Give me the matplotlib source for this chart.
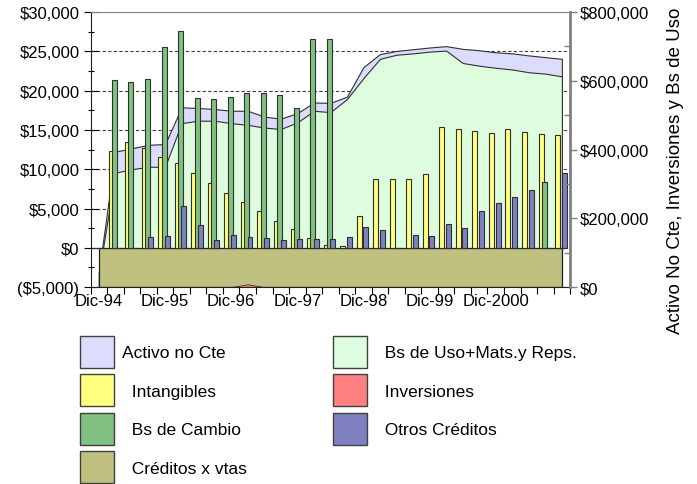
import matplotlib
matplotlib.use("Agg")
import matplotlib.pyplot as plt
from matplotlib.patches import Patch
import numpy as np

plt.rcParams['font.family'] = ['Liberation Sans', 'DejaVu Sans']

# quarterly categories, Dic-94 .. Dic-2001
cat_labels = ["Dic-94", "Dic-95", "Dic-96", "Dic-97", "Dic-98", "Dic-99", "Dic-2000"]
label_pos = [0, 4, 8, 12, 16, 20, 24]

# bars (left axis, $)
intangibles = [0, 12300, 13490, 12730, 11580, 10770, 9550, 8310, 7000, 5890, 4660, 3475, 2370,
               1290, 420, 270, 4060, 8780, 8780, 8700, 9420, 15400, 15150, 14850, 14590, 15150,
               14800, 14510, 14380]
bs_cambio = [0, 21340, 21080, 21425, 25590, 27620, 19100, 18970, 19220, 19640, 19730, 19470, 17820,
             26600, 26600, 0, 0, 0, 0, 0, 0, 0, 0, 0, 0, 0, 0, 8350, 0]
otros_cred = [0, 0, 0, 1400, 1527, 5300, 2840, 930, 1650, 1400, 1270, 930, 1080,
              1180, 1160, 1320, 2620, 2230, 0, 1650, 1530, 3000, 2500, 4660, 5640, 6440,
              7330, 0, 9460]
# area on left axis
creditos_vtas = [0, 0, 0, 0, 0, 0, 0, 0, 0, 0, 0, 0, 0, 0, 0, 0, 0, 0, 0, 0, 0, 0, 0, 0, 0, 0, 0, 0, 0]

# areas (right axis, $)
activo_no_cte = [45000, 394000, 404000, 414000, 416000, 523000, 521000, 518000, 513000, 513000,
                 496000, 490000, 506000, 537000, 536000, 554000, 640000, 678000, 687000, 692000,
                 697000, 701000, 693000, 689000, 683000, 680000, 674000, 669000, 664000]
bs_uso = [40000, 333000, 343000, 350000, 350000, 477000, 484000, 484000, 477000, 472000,
          464000, 460000, 479000, 513000, 509000, 547000, 608000, 664000, 676000, 680000,
          685000, 688000, 652000, 644000, 638000, 633000, 625000, 621000, 613000]
inversiones = [0, 0, 0, 0, 0, 0, 0, 0, 0, 8000, 0, 0, 0, 0, 0, 0, 0, 0, 0, 0, 0, 0, 0, 0, 0, 0, 0, 0, 0]

left_ticks = [-5000, 0, 5000, 10000, 15000, 20000, 25000, 30000]
left_labels = ["($5,000)", "$0", "$5,000", "$10,000", "$15,000", "$20,000", "$25,000", "$30,000"]
right_ticks = [0, 200000, 400000, 600000, 800000]
right_labels = ["$0", "$200,000", "$400,000", "$600,000", "$800,000"]

c_lav = '#DCDCFC'
c_lgreen = '#DEFCDE'
c_yel = '#FFFF80'
c_red = '#FF8080'
c_green = '#80C080'
c_blue = '#8080C0'
c_olive = '#C0C080'
edge = '#303030'

x = np.arange(len(intangibles))

fig = plt.figure(figsize=(6.97, 4.85), dpi=100)
ax = fig.add_axes([0.130, 0.406, 0.688, 0.567])
ax2 = ax.twinx()
ax.set_xlim(-0.5, len(x) - 0.5)
ax.set_ylim(-5000, 30000)
ax2.set_ylim(0, 800000)

# gridlines behind everything
ax.set_axisbelow(True)
ax.yaxis.grid(True, color='#404040', linestyle=(0, (3, 2)), linewidth=0.8)

# areas use the right axis scale
ax.fill_between(x, 0, activo_no_cte, facecolor=c_lav, edgecolor=edge, linewidth=0.8,
                transform=ax2.transData, zorder=1)
ax.fill_between(x, 0, bs_uso, facecolor=c_lgreen, edgecolor=edge, linewidth=0.8,
                transform=ax2.transData, zorder=1.1)
ax.fill_between(x, -5000, creditos_vtas, facecolor=c_olive, edgecolor='#202020', linewidth=0.9,
                zorder=1.5)
ax.fill_between(x, 0, inversiones, facecolor=c_red, edgecolor=edge, linewidth=0.6,
                transform=ax2.transData, zorder=1.6)

w = 0.3
ax.bar(x - 0.26, intangibles, w, color=c_yel, edgecolor=edge, linewidth=0.8, zorder=2)
ax.bar(x - 0.06, bs_cambio, w, color=c_green, edgecolor=edge, linewidth=0.8, zorder=2.1)
ax.bar(x + 0.14, otros_cred, w, color=c_blue, edgecolor=edge, linewidth=0.8, zorder=2.2)

# left axis
ax.set_yticks(left_ticks)
ax.set_yticklabels(left_labels, fontsize=12)
ax.set_yticks(np.arange(-5000, 30001, 2500), minor=True)
ax.tick_params(axis='y', which='major', direction='inout', length=10, width=0.8, pad=3)
ax.tick_params(axis='y', which='minor', direction='inout', length=5, width=0.8)

# x axis: ticks at category boundaries, labels every 4th
ax.set_xticks(np.arange(-0.5, len(x)), labels=[])
ax.set_xticks(label_pos, minor=True)
ax.set_xticklabels(cat_labels, minor=True, fontsize=12)
ax.tick_params(axis='x', which='major', direction='out', length=5, width=0.8)
ax.tick_params(axis='x', which='minor', length=0, pad=4)

ax.spines['right'].set_visible(False)
ax.spines['top'].set_color('#808080')
ax.spines['left'].set_color('#202020')
ax.spines['bottom'].set_color('#202020')

# right axis
for s in ['left', 'top', 'bottom']:
    ax2.spines[s].set_visible(False)
ax2.spines['right'].set_color('#808080')
ax2.spines['right'].set_linewidth(2)
ax2.set_yticks(right_ticks)
ax2.set_yticklabels(right_labels, fontsize=12)
ax2.set_yticks(np.arange(0, 800001, 100000), minor=True)
ax2.tick_params(axis='y', which='major', direction='out', length=5, width=1, color='#808080', pad=2)
ax2.tick_params(axis='y', which='minor', direction='in', length=4, width=1, color='#808080')

fig.text(676 / 697, 1 - 334 / 485, "Activo No Cte, Inversiones y Bs de Uso", rotation=90,
         ha='center', va='bottom', fontsize=13.5)

handles = [
    Patch(facecolor=c_lav, edgecolor='#404040', label="Activo no Cte"),
    Patch(facecolor=c_yel, edgecolor='#404040', label="  Intangibles"),
    Patch(facecolor=c_green, edgecolor='#404040', label="  Bs de Cambio"),
    Patch(facecolor=c_olive, edgecolor='#404040', label="  Créditos x vtas"),
    Patch(facecolor=c_lgreen, edgecolor='#404040', label="  Bs de Uso+Mats.y Reps."),
    Patch(facecolor=c_red, edgecolor='#404040', label="  Inversiones"),
    Patch(facecolor=c_blue, edgecolor='#404040', label="  Otros Créditos"),
]
fig.legend(handles=handles, ncol=2, loc='upper left', bbox_to_anchor=(79.7 / 697, 1 - 337 / 485),
           frameon=False, fontsize=12.5, handlelength=1.96, handleheight=2.45, handletextpad=0.45,
           labelspacing=0.38, columnspacing=5.0, borderpad=0, borderaxespad=0)

fig.savefig("out.png", dpi=100)
